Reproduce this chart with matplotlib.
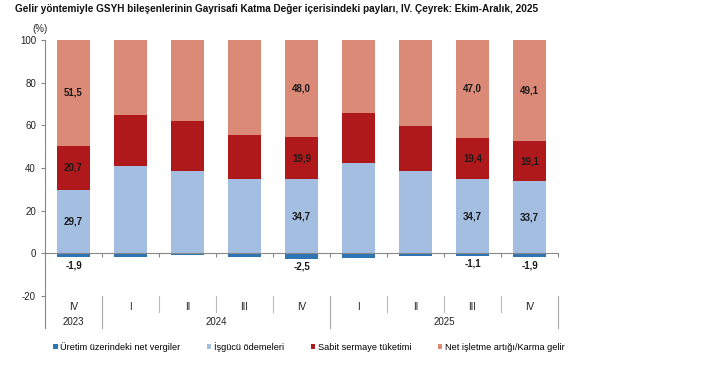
import matplotlib
matplotlib.use("Agg")
import matplotlib.pyplot as plt
from matplotlib.patches import Patch
from matplotlib.lines import Line2D

plt.rcParams['font.family'] = ['Liberation Sans Narrow', 'Liberation Sans', 'DejaVu Sans']
plt.rcParams['axes.unicode_minus'] = False

quarters = ["IV", "I", "II", "III", "IV", "I", "II", "III", "IV"]
years = ["2023", "2024", "2025"]
year_spans = [(0, 0), (1, 4), (5, 8)]
taxes = [-1.9, -1.5, -1.0, -1.5, -2.5, -2.0, -1.3, -1.1, -1.9]
labor = [29.7, 41.0, 38.6, 34.9, 34.7, 42.5, 38.6, 34.7, 33.7]
capital = [20.7, 24.0, 23.3, 20.7, 19.9, 23.2, 21.3, 19.4, 19.1]
netop = [51.5, 36.5, 39.1, 45.9, 48.0, 36.3, 41.4, 47.0, 49.1]
labeled = [0, 4, 7, 8]
series_names = ["Üretim üzerindeki net vergiler", "İşgücü ödemeleri",
                "Sabit sermaye tüketimi", "Net işletme artığı/Karma gelir"]
colors = ["#2E75B6", "#A4BEE2", "#B0191B", "#DA8A77"]

fig = plt.figure(figsize=(7.18, 3.70), dpi=100)
ax = fig.add_axes([45/718, 1-296/370, (558-45)/718, 256/370])

x = list(range(len(quarters)))
w = 0.58
ax.bar(x, taxes, w, color=colors[0], zorder=2)
ax.bar(x, labor, w, color=colors[1], zorder=2)
ax.bar(x, capital, w, bottom=labor, color=colors[2], zorder=2)
bot2 = [a + b for a, b in zip(labor, capital)]
ax.bar(x, netop, w, bottom=bot2, color=colors[3], zorder=2)

ax.set_xlim(-0.5, len(x) - 0.5)
ax.set_ylim(-20, 100)
ax.set_yticks(range(-20, 101, 20))
ax.tick_params(axis='y', labelsize=7, length=3, direction='out', color='#888888')
for lab in ax.get_yticklabels():
    lab.set_color('#222222')

for s in ['top', 'right']:
    ax.spines[s].set_visible(False)
ax.spines['left'].set_color('#888888')
ax.spines['bottom'].set_position(('data', 0))
ax.spines['bottom'].set_color('#888888')
ax.set_xticks([i + 0.5 for i in range(-1, len(x))])
ax.tick_params(axis='x', length=3, direction='out', color='#888888', labelbottom=False)

def fmt(v):
    return f"{v:.1f}".replace('.', ',')

lkw = dict(ha='center', va='center', fontsize=7, fontweight='bold', color='#1a1a1a', zorder=3)
for i in labeled:
    ax.text(i, taxes[i] - 3.6, fmt(taxes[i]), **lkw)
    ax.text(i, labor[i] / 2, fmt(labor[i]), **lkw)
    ax.text(i, labor[i] + capital[i] / 2, fmt(capital[i]), **lkw)
    top = min(100, bot2[i] + netop[i])
    ax.text(i, (bot2[i] + top) / 2, fmt(netop[i]), **lkw)

# category axis below
tr = ax.get_xaxis_transform()
ax.add_line(Line2D([-0.5, -0.5], [0, -0.125], transform=tr, color='#888888', lw=0.8, clip_on=False))
for i, q in enumerate(quarters):
    ax.text(i, -0.042, q, transform=tr, ha='center', va='center', fontsize=7, color='#222222')
year_bounds = set()
for (a, b) in year_spans:
    year_bounds.add(b + 0.5)
for k in range(len(x)):
    bx = k + 0.5
    if bx in year_bounds:
        ax.add_line(Line2D([bx, bx], [0, -0.125], transform=tr, color='#aaaaaa', lw=0.8, clip_on=False))
    else:
        ax.add_line(Line2D([bx, bx], [0, -0.0625], transform=tr, color='#bbbbbb', lw=0.8, clip_on=False))
for yname, (a, b) in zip(years, year_spans):
    ax.text((a + b) / 2, -0.10, yname, transform=tr, ha='center', va='center', fontsize=7, color='#222222')

fig.text(15/718, 1-9/370, "Gelir yöntemiyle GSYH bileşenlerinin Gayrisafi Katma Değer içerisindeki payları, IV. Çeyrek: Ekim-Aralık, 2025",
         ha='left', va='center', fontsize=7.2, fontweight='bold', color='#111111')
fig.text(40/718, 1-29/370, "(%)", ha='center', va='center', fontsize=7, color='#222222')

handles = [Patch(facecolor=c) for c in colors]
fig.legend(handles, series_names, ncol=4, loc='center left', bbox_to_anchor=(53/718, 1-347/370),
           frameon=False, fontsize=6.55, handlelength=0.5, handleheight=0.5, handletextpad=0.3,
           columnspacing=2.9, borderpad=0, borderaxespad=0)

fig.savefig("out.png", dpi=100)
